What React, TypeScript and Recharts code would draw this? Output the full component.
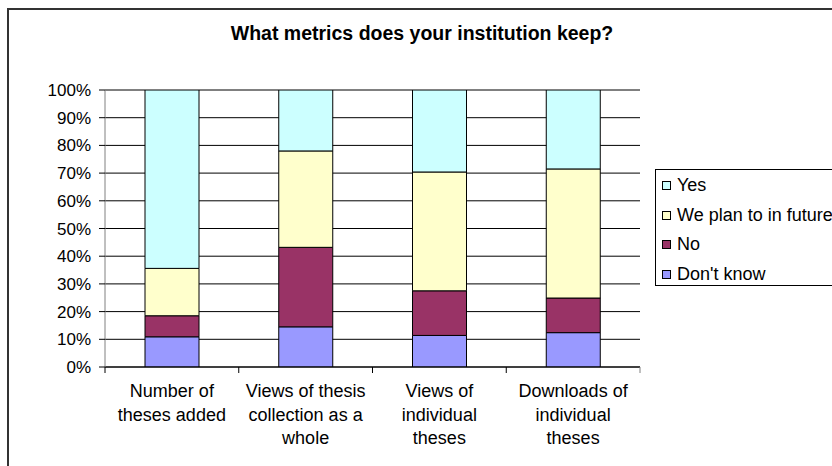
import React from "react";
import { Bar, BarChart, CartesianGrid, Legend, XAxis, YAxis } from "recharts";

const categories = [
  "Number of theses added",
  "Views of thesis collection as a whole",
  "Views of individual theses",
  "Downloads of individual theses",
];

const categoryLines = [
  ["Number of", "theses added"],
  ["Views of thesis", "collection as a", "whole"],
  ["Views of", "individual", "theses"],
  ["Downloads of", "individual", "theses"],
];

const dontKnow = [10.9, 14.5, 11.4, 12.4];
const no = [7.6, 28.7, 16.1, 12.5];
const planToInFuture = [17.1, 34.8, 42.9, 46.6];
const yes = [64.4, 22.0, 29.6, 28.5];

const yTicks = [0, 10, 20, 30, 40, 50, 60, 70, 80, 90, 100];

// bottom of the stack first
const series = [
  { key: "dontKnow", name: "Don't know", color: "#9999FF", values: dontKnow },
  { key: "no", name: "No", color: "#993366", values: no },
  { key: "plan", name: "We plan to in future", color: "#FFFFCC", values: planToInFuture },
  { key: "yes", name: "Yes", color: "#CCFFFF", values: yes },
];

const data = categories.map((name, i) => {
  const row: Record<string, number | string> = { name };
  series.forEach((s) => {
    row[s.key] = s.values[i];
  });
  return row;
});

const WIDTH = 832;
const HEIGHT = 466;
const X_AXIS_HEIGHT = 99;
const MARGIN = { top: 90, right: 192, bottom: 0, left: 45 };
const Y_AXIS_WIDTH = 60;
const PLOT_LEFT = MARGIN.left + Y_AXIS_WIDTH;
const PLOT_RIGHT = WIDTH - MARGIN.right;
const PLOT_BOTTOM = HEIGHT - MARGIN.bottom - X_AXIS_HEIGHT;
const HALF_BAND = (PLOT_RIGHT - PLOT_LEFT) / categories.length / 2;

const FONT = '"Liberation Sans", Arial, sans-serif';

function CategoryTick(props: any) {
  const { x, payload, index } = props;
  const idx = payload.index ?? index;
  const lines = categoryLines[idx] || [payload.value];
  const isLast = idx === categories.length - 1;
  return (
    <g>
      <line x1={x - HALF_BAND} x2={x - HALF_BAND} y1={PLOT_BOTTOM} y2={PLOT_BOTTOM + 6} stroke="#000" />
      {isLast && (
        <line x1={x + HALF_BAND} x2={x + HALF_BAND} y1={PLOT_BOTTOM} y2={PLOT_BOTTOM + 6} stroke="#808080" />
      )}
      <text x={x} y={PLOT_BOTTOM + 30} textAnchor="middle" fontSize={18} fontFamily={FONT} fill="#000">
        {lines.map((line: string, i: number) => (
          <tspan key={i} x={x} dy={i === 0 ? 0 : 23.5}>
            {line}
          </tspan>
        ))}
      </text>
    </g>
  );
}

function LegendBox() {
  const items = [...series].reverse();
  return (
    <div
      style={{
        border: "1px solid #000",
        background: "#fff",
        width: 190,
        height: 117,
        boxSizing: "border-box",
        paddingTop: 1,
        fontFamily: FONT,
        fontSize: 18,
        color: "#000",
        whiteSpace: "nowrap",
      }}
    >
      {items.map((s) => (
        <div key={s.key} style={{ display: "flex", alignItems: "center", height: 29.5, paddingLeft: 6 }}>
          <span
            style={{
              display: "inline-block",
              width: 7,
              height: 7,
              background: s.color,
              border: "1px solid #000",
              marginRight: 6,
              flex: "none",
            }}
          />
          <span>{s.name}</span>
        </div>
      ))}
    </div>
  );
}

export default function App() {
  return (
    <div
      style={{
        position: "absolute",
        left: 0,
        top: 0,
        width: WIDTH,
        height: HEIGHT,
        background: "#fff",
        overflow: "hidden",
        fontFamily: FONT,
      }}
    >
      <div
        style={{
          position: "absolute",
          left: 7,
          top: 8,
          width: 1000,
          height: 1000,
          border: "2px solid #333",
        }}
      />
      <div
        style={{
          position: "absolute",
          left: 0,
          top: 22,
          width: 844,
          textAlign: "center",
          fontSize: 19.5,
          fontWeight: "bold",
          color: "#000",
        }}
      >
        What metrics does your institution keep?
      </div>
      <div style={{ position: "absolute", left: 0, top: 0 }}>
        <BarChart width={WIDTH} height={HEIGHT} data={data} margin={MARGIN} barSize={54}>
          <CartesianGrid horizontal vertical={false} stroke="#000" strokeOpacity={1} />
          <XAxis
            dataKey="name"
            axisLine={{ stroke: "#000" }}
            tickLine={false}
            tick={<CategoryTick />}
            interval={0}
            height={X_AXIS_HEIGHT}
          />
          <YAxis
            width={Y_AXIS_WIDTH}
            domain={[0, 100]}
            ticks={yTicks}
            interval={0}
            tickFormatter={(v: number) => `${v}%`}
            axisLine={{ stroke: "#808080" }}
            tickLine={{ stroke: "#000" }}
            tickSize={6}
            tickMargin={8}
            tick={{ fontSize: 17, fontFamily: FONT, fill: "#000" }}
            allowDataOverflow
          />
          {series.map((s) => (
            <Bar
              key={s.key}
              dataKey={s.key}
              name={s.name}
              stackId="a"
              fill={s.color}
              stroke="#000"
              strokeWidth={1}
              isAnimationActive={false}
            />
          ))}
          <Legend
            layout="horizontal"
            verticalAlign="middle"
            content={<LegendBox />}
            wrapperStyle={{ position: "absolute", left: 655, top: 169, width: 190, height: 117 }}
          />
        </BarChart>
      </div>
    </div>
  );
}
